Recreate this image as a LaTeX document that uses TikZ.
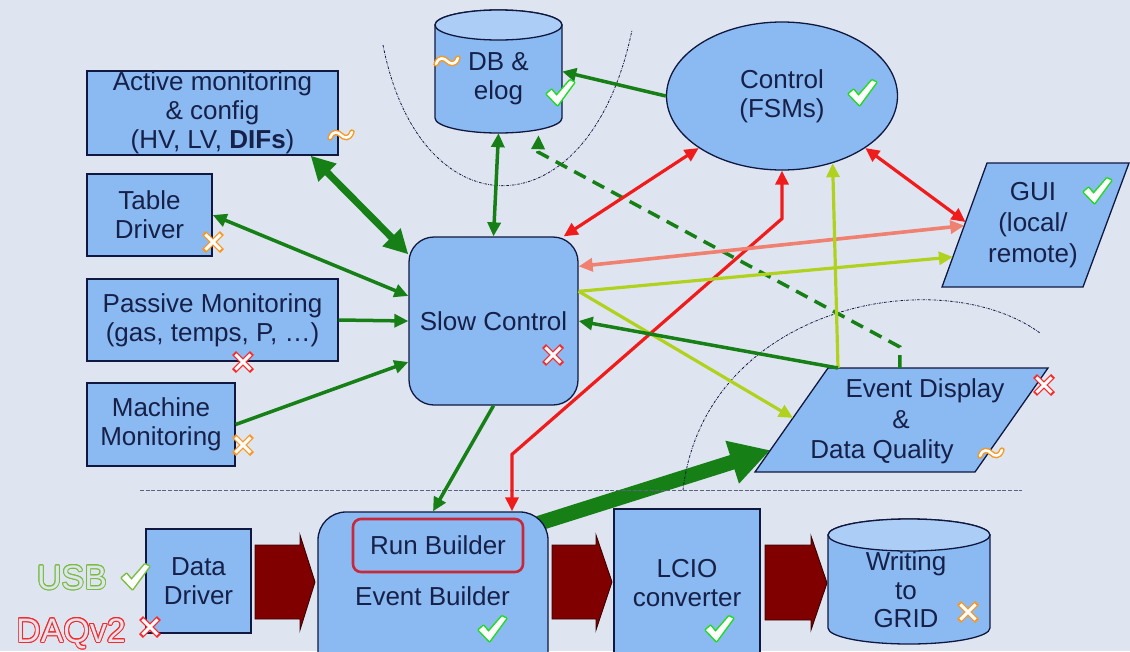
\documentclass[tikz,border=0pt]{standalone}
\usepackage{fontspec}
\setmainfont{Liberation Sans}
\usepackage{contour}
\contourlength{0.9pt}
\usetikzlibrary{arrows.meta,shapes.geometric,calc}
\definecolor{bgc}{RGB}{223,229,240}
\definecolor{boxc}{RGB}{138,186,241}
\definecolor{topc}{RGB}{172,205,245}
\definecolor{navc}{RGB}{16,24,64}
\definecolor{txtc}{RGB}{22,32,72}
\definecolor{grc}{RGB}{22,128,22}
\definecolor{redc}{RGB}{240,28,28}
\definecolor{salc}{RGB}{240,128,112}
\definecolor{ylc}{RGB}{176,210,30}
\definecolor{dred}{RGB}{128,0,0}
\definecolor{rbc}{RGB}{200,40,60}
\definecolor{okc}{RGB}{30,220,30}
\definecolor{usbc}{RGB}{120,190,60}
\definecolor{xrc}{RGB}{250,40,40}
\definecolor{xoc}{RGB}{250,150,30}
\definecolor{sepc}{RGB}{90,100,130}
\pgfdeclarelayer{back}
\pgfdeclarelayer{mid}
\pgfsetlayers{back,mid,main}
\newcommand\xmk[2]{\begin{scope}[shift={(#2)}]
 \draw[#1, line width=5.6pt] (-9,-9)--(9,9) (-9,9)--(9,-9);
 \draw[white, line width=2.9pt] (-7.6,-7.6)--(7.6,7.6) (-7.6,7.6)--(7.6,-7.6);
\end{scope}}
\newcommand\ckpath{(-13,1) -- (-8.5,-3) -- (-3.5,3) -- (10,-12.5) -- (14,-10.5) -- (-2.5,12) -- cycle}
\newcommand\ckmk[2]{\begin{scope}[shift={(#2)}]
 \draw[#1, line width=3pt, line join=round] \ckpath;
 \fill[white] \ckpath;
\end{scope}}
\newcommand\tlmk[2]{\begin{scope}[shift={(#2)}]
 \draw[#1, line width=5.4pt, line cap=round] (-11,3) .. controls (-8,-5) and (-3,-3) .. (0,0) .. controls (3,3) and (8,5) .. (11,-3);
 \draw[white, line width=2.6pt, line cap=round] (-11,3) .. controls (-8,-5) and (-3,-3) .. (0,0) .. controls (3,3) and (8,5) .. (11,-3);
\end{scope}}
\begin{document}
\begin{tikzpicture}[x=1pt,y=-1pt,
  box/.style={draw=navc, line width=1.3pt, fill=boxc, text=txtc, font=\fontsize{26}{29}\selectfont, align=center, inner sep=0pt},
  shp/.style={draw=navc, line width=1.3pt, fill=boxc},
  lbl/.style={text=txtc, font=\fontsize{26}{29}\selectfont, align=center, inner sep=0pt},
  anch/.style={inner sep=0pt},
  ga/.style={draw=grc, line width=3.5pt, -{Triangle[length=14pt,width=13pt]}},
  gaa/.style={draw=grc, line width=3.5pt, {Triangle[length=14pt,width=13pt]}-{Triangle[length=14pt,width=13pt]}},
  gthick/.style={draw=grc, line width=7pt, {Triangle[length=24pt,width=24pt]}-{Triangle[length=24pt,width=24pt]}},
  gd/.style={draw=grc, line width=3.5pt, dash pattern=on 13pt off 8pt, -{Triangle[length=14pt,width=13pt]}},
  raa/.style={draw=redc, line width=3.2pt, {Triangle[length=14pt,width=13pt]}-{Triangle[length=14pt,width=13pt]}},
  saa/.style={draw=salc, line width=3.6pt, {Triangle[length=14pt,width=13pt]}-{Triangle[length=14pt,width=13pt]}},
  ya/.style={draw=ylc, line width=3.2pt, -{Triangle[length=14pt,width=13pt]}},
  dots/.style={draw=navc, line width=0.8pt, dash pattern=on 2.5pt off 1.2pt on 0.6pt off 1.2pt},
  blk/.style={fill=dred, draw=black!55!dred, line width=0.9pt, line join=miter}
]
\begin{pgfonlayer}{back}
\fill[bgc] (0,0) rectangle (1130,651);
\end{pgfonlayer}
\useasboundingbox (0,0) rectangle (1130,651);

% dotted arcs and separator
\draw[dots] (383,45) .. controls (420,235) and (590,235) .. (632,30);
\draw[dots] (683,490) .. controls (705,305) and (940,260) .. (1040,333);
\draw[draw=sepc, line width=0.9pt, dash pattern=on 4pt off 1.6pt] (140,490) -- (1022,490);

% left boxes
\node[box, minimum width=251pt, minimum height=84pt] (act) at (212.5,113) {Active monitoring\\\& config\\(HV, LV, \textbf{DIFs})};
\node[box, minimum width=125pt, minimum height=82pt] (td) at (149.5,215) {Table\\Driver};
\node[box, minimum width=251pt, minimum height=82pt] (pm) at (212.5,320) {Passive Monitoring\\(gas, temps, P, …)};
\node[box, minimum width=148pt, minimum height=83pt] (mm) at (161,424.5) {Machine\\Monitoring};
\node[box, rounded corners=25pt, minimum width=169pt, minimum height=168pt] (sc) at (493.5,321) {Slow Control};

% DB cylinder
\path[shp] (435,25) -- (435,118) arc[start angle=180,end angle=360,x radius=63.5pt,y radius=15pt] -- (562,25) arc[start angle=0,end angle=180,x radius=63.5pt,y radius=15pt] -- cycle;
\filldraw[shp, fill=topc] (498.5,25) ellipse [x radius=63.5pt, y radius=15pt];
\node[anch, minimum width=127pt, minimum height=123pt] (db) at (498.5,71.5) {};
\node[lbl] (dbt) at (498.5,79) {DB \&\\elog};

% Control
\node[box, ellipse, minimum width=231pt, minimum height=148pt] (ctrl) at (782,96) {Control\\(FSMs)};

% GUI
\coordinate (gtl) at (987,163);
\coordinate (gtr) at (1129,163);
\coordinate (gbr) at (1083,287);
\coordinate (gbl) at (942,287);
\path[shp] (gtl) -- (gtr) -- (gbr) -- (gbl) -- cycle;
\node[lbl, font=\fontsize{26}{31}\selectfont] (gui) at (1033,225) {GUI\\(local/\\remote)};

% Event display
\coordinate (etl) at (828,368);
\coordinate (etr) at (1048,368);
\coordinate (ebr) at (975,472);
\coordinate (ebl) at (755,472);
\path[shp] (etl) -- (etr) -- (ebr) -- (ebl) -- cycle;
\node[lbl, anchor=base] (ed1) at (925,397) {Event Display};
\node[lbl, anchor=base] (ed2) at (901,428) {\&};
\node[lbl, anchor=base] (ed3) at (882,458) {Data Quality};

% bottom row
\node[box, minimum width=105pt, minimum height=104pt] (dd) at (198.5,581) {Data\\Driver};
\node[box, rounded corners=28pt, minimum width=230pt, minimum height=170pt] (eb) at (433,597) {};
\node[lbl, draw=rbc, line width=2.6pt, rounded corners=8pt, minimum width=170pt, minimum height=53pt] (rb) at (438,545.5) {Run Builder};
\node[lbl] (ebt) at (432.5,596) {Event Builder};
\node[box, minimum width=146pt, minimum height=171pt] (lcio) at (687,594.5) {};
\node[lbl] (lciot) at (687,583) {LCIO\\converter};

% GRID cylinder
\path[shp] (828,535) -- (828,628) arc[start angle=180,end angle=360,x radius=81pt,y radius=16pt] -- (990,535) arc[start angle=0,end angle=180,x radius=81pt,y radius=16pt] -- cycle;
\filldraw[shp, fill=topc] (909,535) ellipse [x radius=81pt, y radius=16pt];
\node[anch, minimum width=162pt, minimum height=125pt] (grid) at (909,581.5) {};
\node[lbl, font=\fontsize{26}{28.5}\selectfont] (gridt) at (906,590) {Writing\\to\\GRID};

% block arrows
\filldraw[blk] (255,545) -- (300,545) -- (300,535) -- (315,582) -- (300,630) -- (300,619) -- (255,619) -- cycle;
\filldraw[blk] (552,545) -- (596,545) -- (596,535) -- (612,582) -- (596,630) -- (596,619) -- (552,619) -- cycle;
\filldraw[blk] (765,545) -- (811,545) -- (811,536) -- (827,583) -- (811,630) -- (811,620) -- (765,620) -- cycle;

% big green arrow (behind event builder)
\begin{pgfonlayer}{mid}
\draw[draw=grc, line width=15pt, -{Triangle[length=40pt,width=42pt]}] ([xshift=-10pt,yshift=-12pt]eb.north east) -- ($(etl)!0.79!(ebl)$);
\end{pgfonlayer}

% connectors
\draw[ga] (ctrl.west) -- (db.east);
\draw[gaa] (db.south) -- (sc.north);
\draw[gd] ($(etl)!0.327!(etr)$) -- ++(0,-21) -- (538,152) -- ([xshift=40pt,yshift=-2pt]db.south);
\draw[gthick] ([xshift=-28pt]act.south east) -- ([yshift=-18pt]sc.north west);
\draw[gaa] (td.east) -- ([yshift=25pt]sc.west);
\draw[ga] (pm.east) -- (sc.west);
\draw[ga] (mm.east) -- ([yshift=-41pt]sc.west);
\draw[ga] (sc.south) -- (eb.north);
\draw[raa] (ctrl.212) -- ([xshift=-15pt]sc.north east);
\draw[raa] (ctrl.328) -- ($(gtl)!0.476!(gbl)$);
\draw[raa] ([xshift=79pt]eb.north) -- ++(0,-57) -- ($(ctrl.south)+(0,48)$) -- (ctrl.south);
\draw[saa] ([yshift=-30pt]sc.north east) -- ($(gtl)!0.505!(gbl)$);
\draw[ya] ([yshift=-55pt]sc.north east) -- ($(gtl)!0.758!(gbl)$);
\draw[ya] ([yshift=-55pt]sc.north east) -- ($(etl)!0.48!(ebl)$);
\draw[ya] ($(etl)+(10,0)$) -- (ctrl.307);
\draw[ga] ($(etl)+(10,0)$) -- (sc.east);

% status marks
\ckmk{okc}{560,93}
\ckmk{okc}{862,93}
\ckmk{okc}{1097,191}
\ckmk{okc}{492,629}
\ckmk{okc}{719,629}
\ckmk{usbc}{135,577}
\xmk{xrc}{553,355}
\xmk{xrc}{243,362}
\xmk{xrc}{1044,385}
\xmk{xrc}{150,627}
\xmk{xoc}{213,242}
\xmk{xoc}{243,445}
\xmk{xoc}{968,612}
\tlmk{xoc}{341,135}
\tlmk{xoc}{447,61}
\tlmk{xoc}{991,453}

% side labels
\node[inner sep=0pt, font=\fontsize{34}{34}\selectfont] (usb) at (72,578) {\contour{usbc}{\textcolor{bgc}{USB}}};
\node[inner sep=0pt, font=\fontsize{34}{34}\selectfont] (daq) at (71,634) {\contour{xrc}{\textcolor{bgc}{DAQv2}}};
\end{tikzpicture}
\end{document}
